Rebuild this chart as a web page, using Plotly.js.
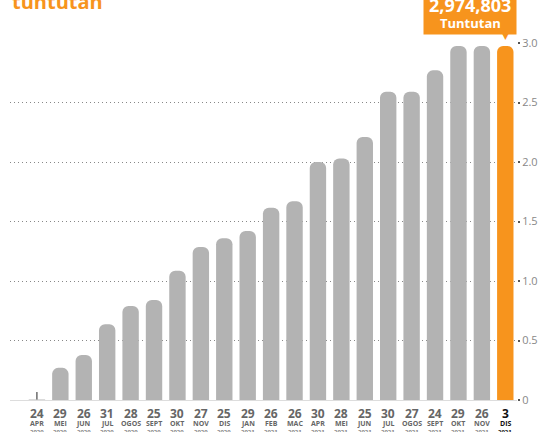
<!DOCTYPE html>
<html>
<head>
<meta charset="utf-8">
<script src="https://cdn.plot.ly/plotly-3.0.1.min.js"></script>
<style>
  html, body { margin: 0; padding: 0; background: #fff; }
  #chart { width: 545px; height: 432px; }
</style>
</head>
<body>
<div id="chart"></div>
<script>
// cumulative claims (millions)
const days = ['24', '29', '26', '31', '28', '25', '30', '27', '25', '29', '26',
  '26', '30', '28', '25', '30', '27', '24', '29', '26', '3'];
const months = ['APR', 'MEI', 'JUN', 'JUL', 'OGOS', 'SEPT', 'OKT', 'NOV', 'DIS', 'JAN', 'FEB',
  'MAC', 'APR', 'MEI', 'JUN', 'JUL', 'OGOS', 'SEPT', 'OKT', 'NOV', 'DIS'];
const years = ['2020', '2020', '2020', '2020', '2020', '2020', '2020', '2020', '2020', '2021', '2021',
  '2021', '2021', '2021', '2021', '2021', '2021', '2021', '2021', '2021', '2021'];
const claims = [0.004, 0.27, 0.378, 0.636, 0.79, 0.84, 1.087, 1.285, 1.36, 1.42, 1.616,
  1.67, 2.0, 2.03, 2.21, 2.59, 2.59, 2.77, 2.975, 2.975, 2.974803];
const yTicks = [0, 0.5, 1.0, 1.5, 2.0, 2.5, 3.0];
const yTickText = ['0', '0.5', '1.0', '1.5', '2.0', '2.5', '3.0'];
const latestLabel = '2,974,803';

const grey = '#b3b3b3';
const orange = '#f7941d';
const last = claims.length - 1;
const idx = claims.map((v, i) => i);

const barColors = claims.map((v, i) => (i === last ? orange : grey));

const trace = {
  x: idx,
  y: claims,
  type: 'bar',
  marker: { color: barColors, cornerradius: 6 },
  hoverinfo: 'skip',
};

const annotations = [];
idx.forEach((i) => {
  const isLast = i === last;
  annotations.push({
    x: i, y: 0, xref: 'x', yref: 'y', yanchor: 'middle', yshift: -13,
    text: '<b>' + days[i] + '</b>', showarrow: false,
    font: { family: 'Open Sans', size: 12, color: isLast ? '#111' : '#666' },
  });
  annotations.push({
    x: i, y: 0, xref: 'x', yref: 'y', yanchor: 'middle', yshift: -23,
    text: '<b>' + months[i] + '</b>', showarrow: false,
    font: { family: 'Open Sans', size: 7, color: isLast ? '#111' : '#666' },
  });
  annotations.push({
    x: i, y: 0, xref: 'x', yref: 'y', yanchor: 'middle', yshift: -32,
    text: '<b>' + years[i] + '</b>', showarrow: false,
    font: { family: 'Open Sans', size: 6, color: isLast ? '#111' : '#888' },
  });
});

// small marker on the first (tiny) bar
annotations.push({
  x: 0, y: claims[0], xref: 'x', yref: 'y',
  text: '', showarrow: true, arrowhead: 0, arrowwidth: 1, arrowcolor: '#222',
  ax: 0, ay: -9, standoff: 0,
});

// callout box for the latest value
annotations.push({
  x: last, y: 3.0, xref: 'x', yref: 'y',
  xanchor: 'right', yanchor: 'bottom', xshift: 12, yshift: 8,
  text: ' ', showarrow: false, bgcolor: orange, width: 88, height: 52, borderpad: 2,
  font: { family: 'Open Sans', size: 10, color: '#fff' },
});
annotations.push({
  x: last, y: 3.0, xref: 'x', yref: 'y',
  xanchor: 'center', yanchor: 'middle', xshift: -35, yshift: 38,
  text: '<b>' + latestLabel + '</b>', showarrow: false,
  font: { family: 'Open Sans', size: 18, color: '#fff' },
});
annotations.push({
  x: last, y: 3.0, xref: 'x', yref: 'y',
  xanchor: 'center', yanchor: 'middle', xshift: -35, yshift: 20,
  text: '<b>Tuntutan</b>', showarrow: false,
  font: { family: 'Open Sans', size: 13, color: '#fff' },
});
annotations.push({
  x: last, y: 3.0, xref: 'x', yref: 'y',
  yanchor: 'bottom', yshift: 0,
  text: '▼', showarrow: false,
  font: { family: 'DejaVu Sans', size: 9, color: orange },
});

annotations.push({
  x: 0, y: 1, xref: 'paper', yref: 'paper', xanchor: 'left', yanchor: 'bottom',
  xshift: 0, yshift: 26,
  text: '<b>tuntutan</b>', showarrow: false,
  font: { family: 'Open Sans', size: 20, color: orange },
});

const layout = {
  width: 545,
  height: 432,
  margin: { l: 10, r: 28, t: 43, b: 32 },
  paper_bgcolor: '#fff',
  plot_bgcolor: '#fff',
  showlegend: false,
  bargap: 0.3,
  xaxis: {
    range: [-1.15, 20.5],
    showticklabels: false,
    showgrid: false,
    zeroline: false,
    showline: true,
    linecolor: '#dddddd',
    linewidth: 1,
    ticks: '',
  },
  yaxis: {
    side: 'right',
    range: [0, 3.0],
    tickvals: yTicks,
    ticktext: yTickText,
    showgrid: true,
    gridcolor: '#888',
    griddash: '1px,3px',
    gridwidth: 1,
    zeroline: false,
    ticks: 'outside',
    ticklen: 2,
    tickwidth: 2,
    tickcolor: '#555',
    tickfont: { family: 'Open Sans', size: 11, color: '#888' },
  },
  annotations: annotations,
};

Plotly.newPlot('chart', [trace], layout, { displayModeBar: false, staticPlot: true });
</script>
</body>
</html>
